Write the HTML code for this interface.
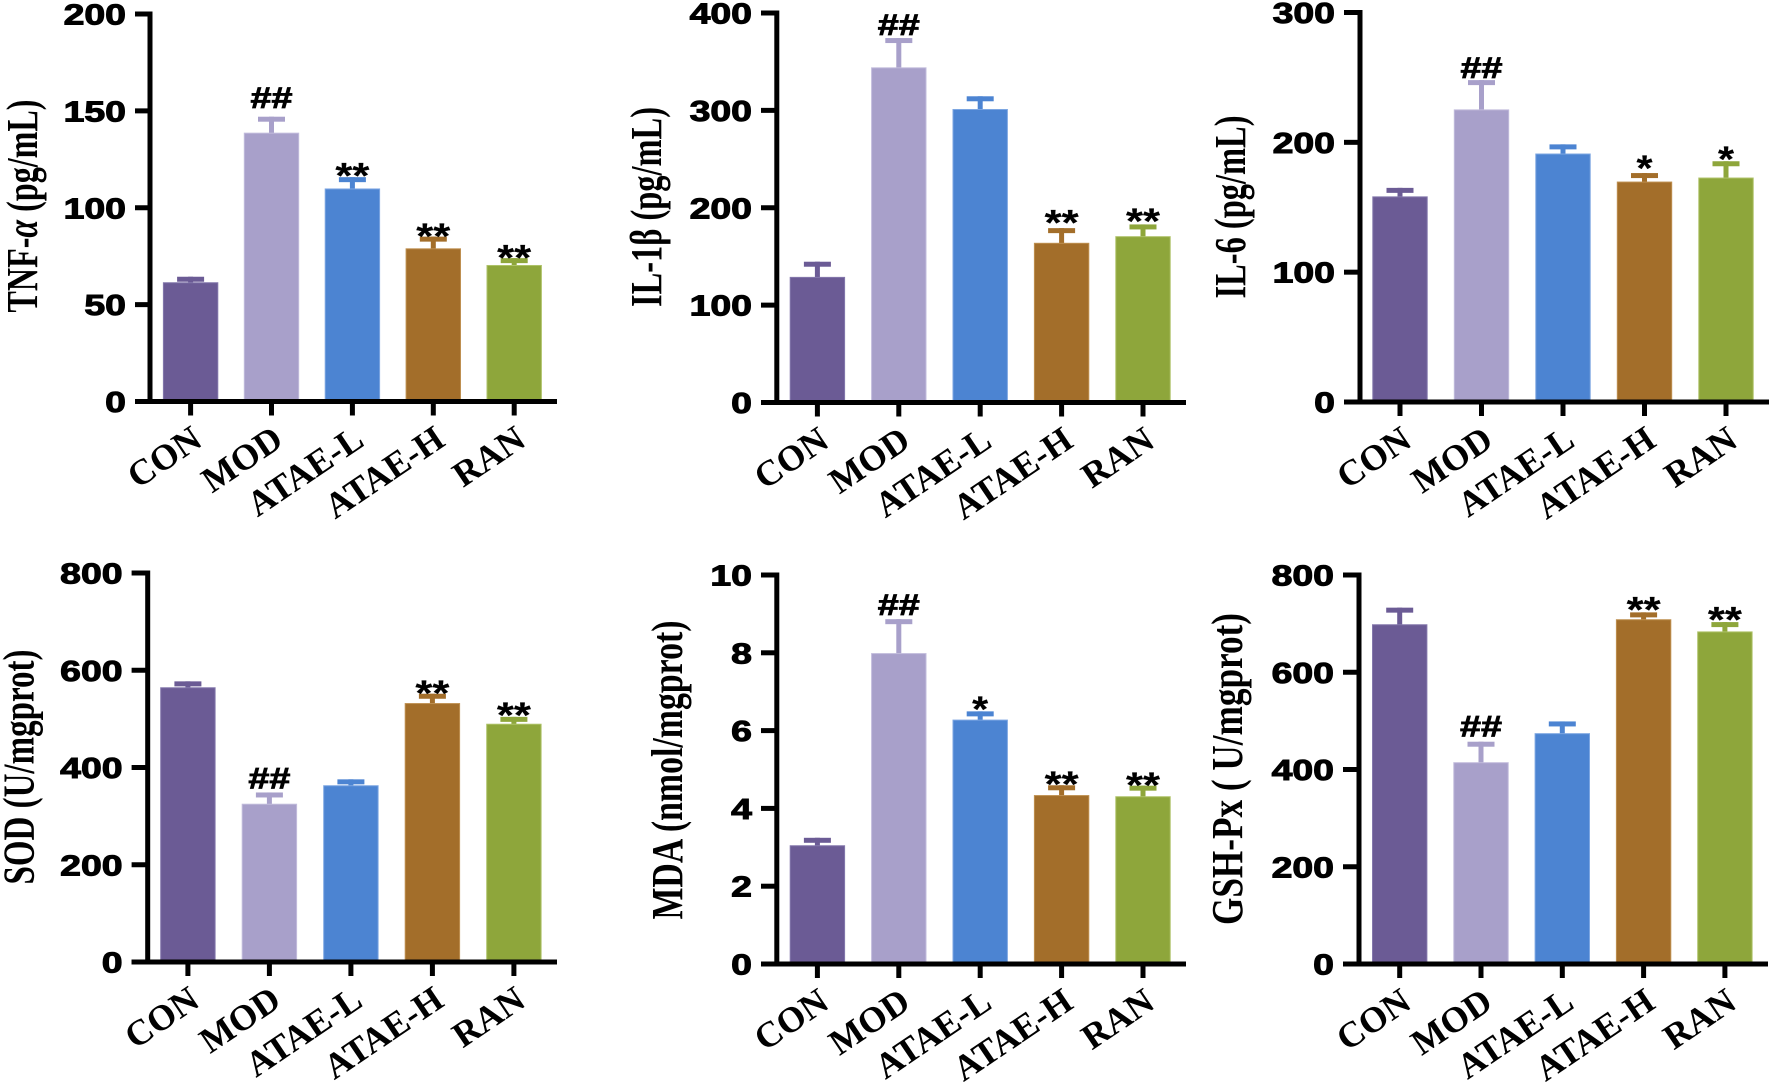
<!DOCTYPE html>
<html lang="en">
<head>
<meta charset="utf-8">
<title>Inflammatory and oxidative stress markers by treatment group</title>
<style>
  html, body { margin: 0; padding: 0; background: #fff; }
  svg { display: block; }
  .tick { font-family: "Liberation Sans", sans-serif; font-weight: 700; font-size: 29px; fill: #000; stroke: #000; stroke-width: 1px; }
  .cat { font-family: "Liberation Serif", serif; font-weight: 700; font-size: 36px; fill: #000; }
  .ytitle { font-family: "Liberation Serif", serif; font-weight: 700; font-size: 44px; fill: #000; }
  .mark { font-family: "Liberation Sans", sans-serif; font-weight: 700; fill: #000; }
</style>
</head>
<body>
<svg id="figure" xmlns="http://www.w3.org/2000/svg" width="1772" height="1086" viewBox="0 0 1772 1086"></svg>
<script>
const categories = ['CON', 'MOD', 'ATAE-L', 'ATAE-H', 'RAN'];

const tnfValues = [61.3, 138.5, 109.7, 78.8, 70.2];
const tnfErrors = [1.8, 7.2, 4.8, 5.0, 2.5];
const tnfMarks = ['', '##', '**', '**', '**'];
const tnfTicks = [0, 50, 100, 150, 200];

const il1Values = [128.5, 343.7, 300.9, 163.5, 170.3];
const il1Errors = [13.5, 28, 11, 13, 10];
const il1Marks = ['', '##', '', '**', '**'];
const il1Ticks = [0, 100, 200, 300, 400];

const il6Values = [158, 225, 191, 169.4, 172.5];
const il6Errors = [5, 21, 5.5, 5, 11];
const il6Marks = ['', '##', '', '*', '*'];
const il6Ticks = [0, 100, 200, 300];

const sodValues = [564, 324.5, 362.5, 531.5, 489];
const sodErrors = [8, 19, 8, 15, 10];
const sodMarks = ['', '##', '', '**', '**'];
const sodTicks = [0, 200, 400, 600, 800];

const mdaValues = [3.04, 7.98, 6.27, 4.33, 4.30];
const mdaErrors = [0.14, 0.82, 0.16, 0.2, 0.22];
const mdaMarks = ['', '##', '*', '**', '**'];
const mdaTicks = [0, 2, 4, 6, 8, 10];

const gshValues = [697.7, 414, 473.7, 708, 683];
const gshErrors = [30, 38, 20, 10, 15];
const gshMarks = ['', '##', '', '**', '**'];
const gshTicks = [0, 200, 400, 600, 800];

const barColors = ['#6B5B95', '#A8A0CA', '#4C84D2', '#A36E2A', '#8EA63B'];
const barEdges = ['#8478AC', '#C2BCDC', '#7CA6E2', '#BE8F50', '#AEC268'];

const panels = [
  { id: 'tnf', title: 'TNF-', greek: 'α', rest: ' (pg/mL)', values: tnfValues, errors: tnfErrors, marks: tnfMarks, ticks: tnfTicks, gaps: [0, 8.6, 2, 1, 1],
    axisX: 150, top: 14, zero: 401.5, first: 190.6, step: 80.9, xEnd: 557, tickLeft: 135, titleX: 37, titleY: 206, titleLen: 213 },
  { id: 'il1', title: 'IL-1β (pg/mL)', values: il1Values, errors: il1Errors, marks: il1Marks, ticks: il1Ticks, gaps: [0, 3, 0, 6, 4],
    axisX: 776.8, top: 13, zero: 402.5, first: 817.4, step: 81.4, xEnd: 1186, tickLeft: 761, titleX: 661, titleY: 207, titleLen: 200 },
  { id: 'il6', title: 'IL-6 (pg/mL)', values: il6Values, errors: il6Errors, marks: il6Marks, ticks: il6Ticks, gaps: [0, 2, 0, 5.5, 3],
    axisX: 1360, top: 12.5, zero: 402, first: 1400, step: 81.5, xEnd: 1769, tickLeft: 1344, titleX: 1245, titleY: 207, titleLen: 183 },
  { id: 'sod', title: 'SOD (U/mgprot)', values: sodValues, errors: sodErrors, marks: sodMarks, ticks: sodTicks, gaps: [0, 4, 0, 1.4, 2.4],
    axisX: 147.7, top: 573, zero: 962, first: 187.9, step: 81.5, xEnd: 557, tickLeft: 131.6, titleX: 33.7, titleY: 767, titleLen: 235 },
  { id: 'mda', title: 'MDA (nmol/mgprot)', values: mdaValues, errors: mdaErrors, marks: mdaMarks, ticks: mdaTicks, gaps: [0, 4, 3, 1.7, 1],
    axisX: 776.8, top: 575, zero: 964, first: 817.4, step: 81.4, xEnd: 1186, tickLeft: 761, titleX: 682, titleY: 770, titleLen: 299 },
  { id: 'gsh', title: 'GSH-Px ( U/mgprot)', values: gshValues, errors: gshErrors, marks: gshMarks, ticks: gshTicks, gaps: [0, 5, 0, 3.5, 3],
    axisX: 1359, top: 575, zero: 964, first: 1399.7, step: 81.3, xEnd: 1768, tickLeft: 1343, titleX: 1242, titleY: 769, titleLen: 312 }
];

const NS = 'http://www.w3.org/2000/svg';
const figure = document.getElementById('figure');

function mk(tag, attrs, parent) {
  const el = document.createElementNS(NS, tag);
  for (const k in attrs) el.setAttribute(k, attrs[k]);
  parent.appendChild(el);
  return el;
}

function drawPanel(p) {
  const maxTick = p.ticks[p.ticks.length - 1];
  const yScale = v => p.zero - (v / maxTick) * (p.zero - p.top);
  const xScale = i => p.first + i * p.step;
  const barW = 54.4, capW = 27, capH = 5, stemW = 5, lw = 5;

  const g = mk('g', {}, figure);
  
  

  categories.forEach((cat, i) => {
    const x = xScale(i);
    const top = yScale(p.values[i]);
    const capY = yScale(p.values[i] + p.errors[i]) - capH / 2;

    const stem = mk('rect', { x: x - stemW / 2, y: capY, width: stemW, height: top - capY + 1, fill: barColors[i] }, g);
    
    

    const cap = mk('rect', { x: x - capW / 2, y: capY, width: capW, height: capH, fill: barColors[i] }, g);
    
    

    const bar = mk('rect', { x: x - barW / 2, y: top, width: barW, height: p.zero - top, fill: barColors[i], stroke: barEdges[i], 'stroke-width': 1 }, g);
    
    

    const m = p.marks[i];
    if (m) {
      const isHash = m[0] === '#';
      const size = isHash ? 30 : 36;
      const len = isHash ? 42 : (m.length === 2 ? 34 : 16);
      const baseline = isHash ? capY - p.gaps[i] : capY + 13 - p.gaps[i];
      const t = mk('text', { class: 'mark', x: x, y: baseline, 'text-anchor': 'middle', 'font-size': size, textLength: len, lengthAdjust: 'spacingAndGlyphs', stroke: '#000', 'stroke-width': isHash ? 0.8 : 0.2 }, g);
      t.textContent = m;
      
      
    }

    const tk = mk('rect', { x: x - 2.5, y: p.zero, width: 5, height: 14, fill: '#000' }, g);
    
    

    const lx = x + 13.5, ly = p.zero + 43;
    const lab = mk('text', { class: 'cat', x: lx, y: ly, 'text-anchor': 'end', transform: 'rotate(-34 ' + lx + ' ' + ly + ')' }, g);
    lab.textContent = cat;
    
    
  });

  const yAxis = mk('rect', { x: p.axisX - lw / 2, y: p.top - lw / 2, width: lw, height: p.zero - p.top + lw, fill: '#000' }, g);
  
  

  const xAxis = mk('rect', { x: p.tickLeft, y: p.zero - lw / 2, width: p.xEnd - p.tickLeft, height: lw, fill: '#000' }, g);
  
  

  p.ticks.forEach(v => {
    const y = yScale(v);
    const tick = mk('rect', { x: p.tickLeft, y: y - lw / 2, width: p.axisX - p.tickLeft, height: lw, fill: '#000' }, g);
    
    

    const s = String(v);
    const label = mk('text', { class: 'tick', x: p.tickLeft - 9, y: y + 10.5, 'text-anchor': 'end', textLength: s.length * 20.8, lengthAdjust: 'spacingAndGlyphs' }, g);
    label.textContent = s;
    
    
  });

  const title = mk('text', { class: 'ytitle', x: 0, y: 0, 'text-anchor': 'middle', textLength: p.titleLen, lengthAdjust: 'spacingAndGlyphs', transform: 'translate(' + p.titleX + ' ' + p.titleY + ') rotate(-90)' }, g);
  
  
  if (p.greek) {
    title.appendChild(document.createTextNode(p.title));
    const gk = mk('tspan', { 'font-style': 'italic' }, title);
    gk.textContent = p.greek;
    title.appendChild(document.createTextNode(p.rest));
  } else {
    title.textContent = p.title;
  }
}

panels.forEach(drawPanel);
</script>
</body>
</html>
